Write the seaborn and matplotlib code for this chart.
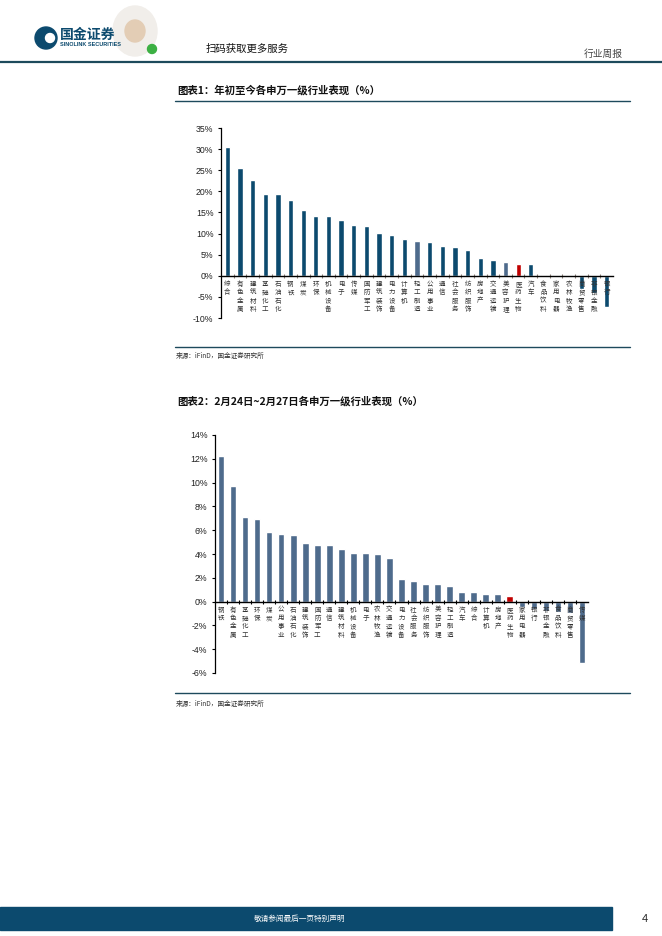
import matplotlib
matplotlib.use("Agg")
import matplotlib.pyplot as plt
import matplotlib.transforms as mtransforms
from matplotlib.patches import Rectangle, Circle, Ellipse
import seaborn as sns

# 图表1：年初至今
ytd_names = ["综合", "有色金属", "建筑材料", "基础化工", "石油石化", "钢铁", "煤炭", "环保",
             "机械设备", "电子", "传媒", "国防军工", "建筑装饰", "电力设备", "计算机", "轻工制造",
             "公用事业", "通信", "社会服务", "纺织服饰", "房地产", "交通运输", "美容护理", "医药生物",
             "汽车", "食品饮料", "家用电器", "农林牧渔", "商贸零售", "非银金融", "银行"]
ytd_values = [30.4, 25.5, 22.7, 19.3, 19.3, 18.0, 15.6, 14.2, 14.2, 13.1, 12.1, 11.7, 10.2, 9.7,
              8.7, 8.2, 7.9, 7.1, 6.9, 6.0, 4.2, 3.7, 3.3, 2.9, 2.8, 0.3, 0.1, -0.2, -3.2, -4.0, -7.5]

# 图表2：2月24日~2月27日
week_names = ["钢铁", "有色金属", "基础化工", "环保", "煤炭", "公用事业", "石油石化", "建筑装饰",
              "国防军工", "通信", "建筑材料", "机械设备", "电子", "农林牧渔", "交通运输", "电力设备",
              "社会服务", "纺织服饰", "美容护理", "轻工制造", "汽车", "综合", "计算机", "房地产",
              "医药生物", "家用电器", "银行", "非银金融", "食品饮料", "商贸零售", "传媒"]
week_values = [12.24, 9.75, 7.15, 6.98, 5.88, 5.69, 5.58, 4.93, 4.76, 4.76, 4.43, 4.07, 4.07,
               4.01, 3.64, 1.91, 1.71, 1.52, 1.46, 1.29, 0.81, 0.78, 0.64, 0.64, 0.48, -0.42,
               -0.61, -0.75, -0.84, -0.98, -5.18]

NAVY = "#0c4a6e"
SLATE = "#4e6b8c"
RED = "#c00000"
TEAL_LINE = "#1d4a5c"

sns.set_theme(style="white")
plt.rcParams["font.family"] = ["Noto Sans CJK SC", "DejaVu Sans"]

W, H = 662, 936
fig = plt.figure(figsize=(W / 100, H / 100), dpi=100)


def fx(px):
    return px / W


def fy(py):
    return 1 - py / H


def hline(y, x0, x1, color=TEAL_LINE, lw=1.0):
    fig.add_artist(plt.Line2D([fx(x0), fx(x1)], [fy(y), fy(y)], color=color, lw=lw))


def bar_chart(rect, names, values, colors, ylim, yticks, width, tick_color):
    ax = fig.add_axes(rect)
    sns.barplot(x=names, y=values, hue=names, palette=colors, legend=False,
                width=width, saturation=1, ax=ax)
    ax.set_ylim(*ylim)
    ax.set_xlim(-0.5, len(names) - 0.5)
    ax.set_yticks(yticks)
    ax.set_yticklabels([f"{t}%" for t in yticks], fontsize=6.3, color="#222222",
                       family="Liberation Sans")
    ax.tick_params(axis="y", length=2.5, width=0.8, color="black", pad=3, left=True)
    ax.set_xticks([i + 0.5 for i in range(len(names) - 1)])
    ax.set_xticklabels([])
    ax.tick_params(axis="x", length=2.5, width=0.8, color=tick_color, direction="inout",
                   bottom=True)
    for s in ["top", "right"]:
        ax.spines[s].set_visible(False)
    ax.spines["bottom"].set_position(("data", 0))
    ax.spines["bottom"].set_color("black")
    ax.spines["bottom"].set_linewidth(1.0)
    ax.spines["bottom"].set_zorder(3)
    ax.spines["left"].set_color("black")
    ax.spines["left"].set_linewidth(0.9)
    off = mtransforms.offset_copy(ax.transData, fig=fig, x=0, y=-3, units="points")
    for i, n in enumerate(names):
        ax.text(i, 0, "\n".join(n), transform=off, ha="center", va="top",
                fontsize=4.7, linespacing=1.05, color="#333333", zorder=5)
    ax.set_xlabel("")
    ax.set_ylabel("")
    ax.grid(False)
    return ax


# 页眉
fig.add_artist(Ellipse((fx(46), fy(38)), 22 / W, 22 / H, color=NAVY, transform=fig.transFigure))
fig.add_artist(Ellipse((fx(50), fy(38)), 9 / W, 9 / H, color="white", transform=fig.transFigure))
fig.text(fx(60), fy(35), "国金证券", fontsize=10, fontweight="bold", color=NAVY, va="center")
fig.text(fx(60), fy(45), "SINOLINK SECURITIES", fontsize=4, fontweight="bold", color=NAVY,
         va="center", family="Liberation Sans")
fig.add_artist(Ellipse((fx(135), fy(31)), 44 / W, 50 / H, color="#f1eeea",
                       transform=fig.transFigure))
fig.add_artist(Ellipse((fx(135), fy(31)), 20 / W, 22 / H, color="#e3cdb5",
                       transform=fig.transFigure))
fig.add_artist(Ellipse((fx(152), fy(49)), 9 / W, 9 / H, color="#3cb043",
                       transform=fig.transFigure))
fig.text(fx(206), fy(49), "扫码获取更多服务", fontsize=7.5, color="#111111", va="center")
fig.text(fx(623), fy(54), "行业周报", fontsize=7, color="#444444", va="center", ha="right")
hline(62, 0, 662, lw=1.6)

# 图表1
fig.text(fx(177), fy(90), "图表1：年初至今各申万一级行业表现（%）", fontsize=7.5,
         fontweight="bold", color="#111111", va="center")
hline(101, 175, 630, lw=1.0)
colors1 = [NAVY] * len(ytd_names)
colors1[ytd_names.index("轻工制造")] = SLATE
colors1[ytd_names.index("美容护理")] = SLATE
colors1[ytd_names.index("医药生物")] = RED
bar_chart([fx(221), fy(318), fx(613) - fx(221), fy(128) - fy(318)], ytd_names, ytd_values,
          colors1, (-10, 35), list(range(-10, 36, 5)), 0.42, "#8a7f76")
hline(347, 175, 630, lw=1.0)
fig.text(fx(176), fy(356), "来源：iFinD，国金证券研究所", fontsize=4.8, color="#333333", va="center")

# 图表2
fig.text(fx(177), fy(401), "图表2：2月24日~2月27日各申万一级行业表现（%）", fontsize=7.5,
         fontweight="bold", color="#111111", va="center")
colors2 = [SLATE] * len(week_names)
colors2[week_names.index("医药生物")] = RED
bar_chart([fx(215), fy(673), fx(588) - fx(215), fy(435) - fy(673)], week_names, week_values,
          colors2, (-6, 14), list(range(-6, 15, 2)), 0.55, "black")
hline(693, 175, 630, lw=1.0)
fig.text(fx(176), fy(704), "来源：iFinD，国金证券研究所", fontsize=4.8, color="#333333", va="center")

# 页脚
fig.add_artist(Rectangle((0, fy(930)), fx(612), fy(907) - fy(930), color=NAVY,
                         transform=fig.transFigure))
fig.text(fx(300), fy(918.5), "敬请参阅最后一页特别声明", fontsize=5.5, color="white",
         ha="center", va="center")
fig.text(fx(645), fy(919), "4", fontsize=8, color="#222222", ha="center", va="center",
         family="Liberation Sans")

fig.savefig("out.png", dpi=100)
